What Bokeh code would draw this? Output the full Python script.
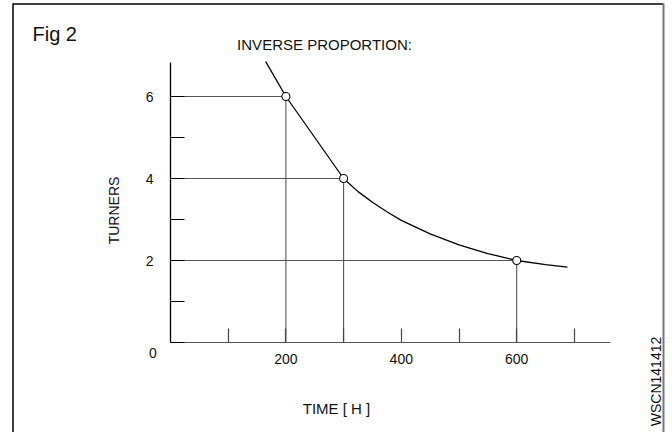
from math import pi
from bokeh.plotting import figure
from bokeh.models import LinearAxis, FixedTicker, Range1d, Label
from bokeh.embed import file_html
from bokeh.resources import INLINE

# ---- data ----
curve_time = [165, 200, 250, 300, 325, 350, 375, 400, 450, 500, 550, 600, 650, 688]
curve_turners = [6.85, 6.0, 5.0, 4.0, 3.68, 3.42, 3.19, 2.98, 2.65, 2.38, 2.17, 2.0, 1.9, 1.84]
point_time = [200, 300, 600]
point_turners = [6, 4, 2]
y_ticks = [0, 1, 2, 3, 4, 5, 6]
y_tick_labels = ["", "", "2", "", "4", "", "6"]
x_ticks = [100, 200, 300, 400, 500, 600, 700]
x_tick_labels = ["", "200", "", "400", "", "600", ""]
origin_label = "0"
y_axis_end = 6.83
x_axis_end = 762
title_text = "INVERSE PROPORTION:"
fig_text = "Fig 2"
x_label = "TIME [ H ]"
y_label = "TURNERS"
code_text = "WSCN141412"

# ---- layout ----
W, H = 672, 432
OX, OY = 170, 342      # canvas pixel of data origin
SX, SY = 0.577, 41.0   # px per data unit
FONT = "Liberation Sans"

def dx(X):
    return (X - OX) / SX

def dy(Y):
    return (OY - Y) / SY

p = figure(width=W, height=H, output_backend="svg", toolbar_location=None,
           x_range=Range1d(dx(0), dx(W)),
           y_range=Range1d(dy(H), dy(0)),
           x_axis_type=None, y_axis_type=None, min_border=0)
p.outline_line_color = None
p.background_fill_color = "white"
p.border_fill_color = "white"

yax = LinearAxis(fixed_location=0, bounds=(0, y_axis_end),
                 ticker=FixedTicker(ticks=y_ticks),
                 major_label_overrides={t: s for t, s in zip(y_ticks, y_tick_labels)},
                 major_tick_in=14, major_tick_out=0, minor_tick_line_color=None,
                 axis_line_color="black", axis_line_width=1.3,
                 major_tick_line_color="black", major_tick_line_width=1.2,
                 major_label_standoff=17, major_label_text_font=FONT,
                 major_label_text_font_size="14px", major_label_text_color="#111111")
p.add_layout(yax, "left")

xax = LinearAxis(fixed_location=0, bounds=(0, x_axis_end),
                 ticker=FixedTicker(ticks=x_ticks),
                 major_label_overrides={t: s for t, s in zip(x_ticks, x_tick_labels)},
                 major_tick_in=14, major_tick_out=0, minor_tick_line_color=None,
                 axis_line_color="#555555", axis_line_width=1.2,
                 major_tick_line_color="#444444", major_tick_line_width=1.2,
                 major_label_standoff=11, major_label_text_font=FONT,
                 major_label_text_font_size="14px", major_label_text_color="#111111")
p.add_layout(xax, "below")

# drop lines
p.segment(x0=[0] * len(point_time), y0=point_turners, x1=point_time, y1=point_turners,
          line_color="#555555", line_width=1.1)
p.segment(x0=point_time, y0=[0] * len(point_time), x1=point_time, y1=point_turners,
          line_color="#555555", line_width=1.1)

# curve and points
p.line(curve_time, curve_turners, line_color="black", line_width=1.3)
p.scatter(point_time, point_turners, size=8, fill_color="white",
          line_color="black", line_width=1.1)

# frame border
p.segment(x0=[dx(12.5), dx(12.5), dx(663)], y0=[dy(3), dy(3.5), dy(3)],
          x1=[dx(12.5), dx(663), dx(663)], y1=[dy(H), dy(3.5), dy(H)],
          line_color=["black", "black", "#777777"], line_width=[1.5, 1.5, 2.0])

def label(text, X, Y, size, align="center", baseline="middle", angle=0.0):
    p.add_layout(Label(x=dx(X), y=dy(Y), text=text, text_font=FONT,
                       text_font_size=size, text_align=align, text_baseline=baseline,
                       angle=angle, text_color="#111111"))

label(fig_text, 32, 33.5, "20px", align="left", baseline="alphabetic")
label(title_text, 324, 43.5, "15px", baseline="alphabetic")
label(y_label, 113, 210, "14px", angle=pi / 2)
label(x_label, 336, 408, "15px")
label(code_text, 655, 381, "14px", angle=pi / 2)
label(origin_label, 152.5, 352, "14px")

open("out.html", "w").write(file_html(p, INLINE))
